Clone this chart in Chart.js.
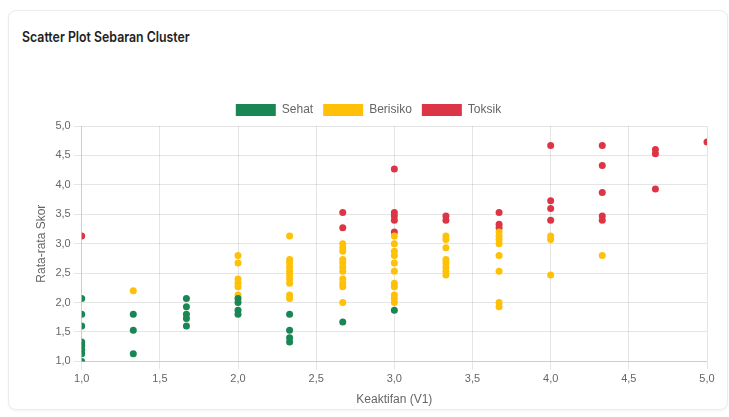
<!DOCTYPE html>
<html lang="id">
<head>
    <meta charset="UTF-8">
    <title>Scatter Plot Sebaran Cluster</title>
    <script src="https://cdn.jsdelivr.net/npm/chart.js"></script>
    <style>
        body {
            margin: 0;
            background: #fff;
            font-family: Inter, Roboto, Arial, sans-serif;
        }
        .card {
            position: absolute;
            left: 8px;
            top: 10px;
            width: 718px;
            height: 398px;
            border: 1px solid #ececec;
            border-radius: 8px;
            box-shadow: 0 1px 3px rgba(0,0,0,0.05);
            background: #fff;
        }
        .card h3 {
            position: absolute;
            left: 13px;
            top: 17px;
            margin: 0;
            font-size: 14.5px;
            font-weight: 600;
            color: #222;
            transform: scaleX(0.85);
            transform-origin: left center;
            white-space: nowrap;
        }
        .chart-box {
            position: absolute;
            left: 14px;
            top: 83px;
            width: 702px;
            height: 317px;
        }
    </style>
</head>
<body>
    <div class="card">
        <h3>Scatter Plot Sebaran Cluster</h3>
        <div class="chart-box"><canvas id="clusterChart"></canvas></div>
    </div>

    <script>
        // data
        const sehatX = [1, 1, 1, 1, 1, 1, 1, 1,
            1.33, 1.33, 1.33,
            1.67, 1.67, 1.67, 1.67, 1.67,
            2, 2, 2, 2,
            2.33, 2.33, 2.33, 2.33,
            2.67, 3];
        const sehatY = [2.07, 1.8, 1.6, 1.33, 1.27, 1.2, 1.13, 1.0,
            1.8, 1.53, 1.13,
            2.07, 1.93, 1.8, 1.73, 1.6,
            2.07, 2.0, 1.87, 1.8,
            1.8, 1.53, 1.4, 1.33,
            1.67, 1.87];

        const berisikoX = [1.33,
            2, 2, 2, 2, 2, 2,
            2.33, 2.33, 2.33, 2.33, 2.33, 2.33, 2.33, 2.33, 2.33, 2.33,
            2.67, 2.67, 2.67, 2.67, 2.67, 2.67, 2.67, 2.67, 2.67, 2.67, 2.67,
            3, 3, 3, 3, 3, 3, 3, 3, 3, 3, 3,
            3.33, 3.33, 3.33, 3.33, 3.33, 3.33, 3.33, 3.33,
            3.67, 3.67, 3.67, 3.67, 3.67, 3.67, 3.67, 3.67,
            4, 4, 4,
            4.33];
        const berisikoY = [2.2,
            2.8, 2.67, 2.4, 2.33, 2.27, 2.13,
            3.13, 2.73, 2.67, 2.6, 2.53, 2.47, 2.4, 2.33, 2.13, 2.07,
            3.0, 2.93, 2.87, 2.73, 2.67, 2.6, 2.53, 2.4, 2.33, 2.27, 2.0,
            3.13, 3.0, 2.87, 2.8, 2.67, 2.53, 2.33, 2.27, 2.13, 2.07, 2.0,
            3.13, 3.07, 2.93, 2.73, 2.67, 2.6, 2.53, 2.47,
            3.2, 3.13, 3.07, 3.0, 2.8, 2.53, 2.0, 1.93,
            3.13, 3.07, 2.47,
            2.8];

        const toksikX = [1,
            2.67, 2.67,
            3, 3, 3, 3, 3,
            3.33, 3.33,
            3.67, 3.67, 3.67,
            4, 4, 4, 4,
            4.33, 4.33, 4.33, 4.33, 4.33,
            4.67, 4.67, 4.67,
            5];
        const toksikY = [3.13,
            3.53, 3.27,
            4.27, 3.53, 3.47, 3.4, 3.2,
            3.47, 3.4,
            3.53, 3.33, 3.27,
            4.67, 3.73, 3.6, 3.4,
            4.67, 4.33, 3.87, 3.47, 3.4,
            4.6, 4.53, 3.93,
            4.73];

        const axisTicks = [1, 1.5, 2, 2.5, 3, 3.5, 4, 4.5, 5];

        function toPoints(xs, ys) {
            return xs.map((x, i) => ({ x: x, y: ys[i] }));
        }

        function fmt(v) {
            return v.toFixed(1).replace('.', ',');
        }

        Chart.defaults.font.family = '"Liberation Sans Narrow", Arial, "Liberation Sans", sans-serif';
        Chart.defaults.color = '#666';

        const ctx = document.getElementById('clusterChart').getContext('2d');
        new Chart(ctx, {
            type: 'scatter',
            data: {
                datasets: [
                    { label: 'Sehat', data: toPoints(sehatX, sehatY), backgroundColor: '#198754', borderColor: '#198754' },
                    { label: 'Berisiko', data: toPoints(berisikoX, berisikoY), backgroundColor: '#ffc107', borderColor: '#ffc107' },
                    { label: 'Toksik', data: toPoints(toksikX, toksikY), backgroundColor: '#dc3545', borderColor: '#dc3545' }
                ]
            },
            options: {
                responsive: true,
                maintainAspectRatio: false,
                animation: false,
                layout: { padding: { left: 7, right: 18 } },
                elements: { point: { radius: 3.5, borderWidth: 0 } },
                plugins: {
                    legend: {
                        position: 'top',
                        labels: { boxWidth: 40, boxHeight: 12, font: { size: 12 } }
                    }
                },
                scales: {
                    x: {
                        min: 1, max: 5,
                        afterBuildTicks: s => { s.ticks = axisTicks.map(v => ({ value: v })); },
                        ticks: { callback: v => fmt(v), font: { size: 11 } },
                        title: { display: true, text: 'Keaktifan (V1)', font: { size: 12 } }
                    },
                    y: {
                        min: 1, max: 5,
                        afterBuildTicks: s => { s.ticks = axisTicks.map(v => ({ value: v })); },
                        ticks: { callback: v => fmt(v), font: { size: 11 } },
                        title: { display: true, text: 'Rata-rata Skor', font: { size: 12 } }
                    }
                }
            }
        });
    </script>
</body>
</html>
